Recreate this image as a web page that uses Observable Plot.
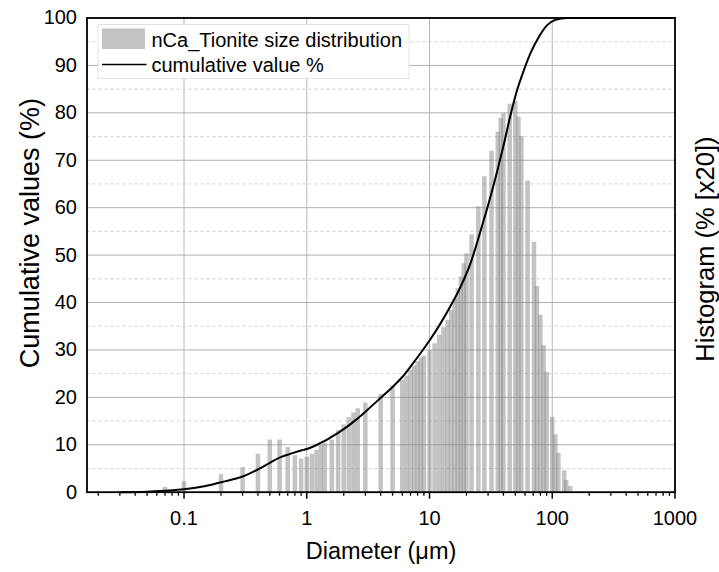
<!DOCTYPE html>
<html><head><meta charset="utf-8">
<script src="https://cdn.jsdelivr.net/npm/d3@7"></script>
<script src="https://cdn.jsdelivr.net/npm/@observablehq/plot@0.6"></script>
<style>
body{margin:0;background:#fff;}
#chart{position:relative;width:719px;height:572px;}
</style></head><body><div id="chart"></div>
<script>
// Histogram classes (diameter, µm) and heights (% x20)
const diameters = [0.07,0.1,0.2,0.3,0.4,0.5,0.6,0.7,0.8,0.9,1.0,1.1,1.2,1.3,1.4,1.6,1.8,2.0,2.2,2.4,2.6,3.0,4.0,5.0,6.0,6.5,7.0,7.5,8.0,8.5,9.0,10,11,12,13,14,15,16,17,18,19,20,22,25,28,32,36,38,40,45,50,53,56,63,71,75,80,85,90,100,106,112,125,130,140];
const histogram = [1.0,2.2,3.7,5.2,8.0,11.0,11.0,9.4,7.7,7.0,7.4,8.0,8.8,9.9,10.3,11.0,13.0,14.2,15.7,16.7,17.6,18.8,20.6,22.4,23.6,24.5,25.7,26.6,27.5,28.3,28.7,29.9,31.3,33.1,34.7,36.2,38.3,40.8,42.9,45.4,48.2,50.3,54.3,60.2,66.5,71.9,75.9,78.8,79.8,81.8,82.5,79.1,75.0,65.6,52.7,43.4,37.3,30.9,25.3,15.8,12.1,8.2,4.5,2.5,1.2];
// Cumulative curve
const cumDiam = [0.03,0.05,0.07,0.1,0.15,0.2,0.3,0.4,0.5,0.6,0.7,0.8,0.9,1.0,1.2,1.4,1.6,2.0,2.5,3.1,4.0,5.0,6.0,7.2,8.5,10.2,12.3,14.8,17.9,21.6,26,30,35.6,40,45.7,51,56.9,66.5,77.7,90.9,106,132,200,1000];
const cumValue = [0,0.1,0.3,0.6,1.3,2.1,3.3,4.8,6.2,7.3,7.9,8.4,8.8,9.1,9.95,10.8,11.7,13.3,15.2,17.3,19.9,22.2,24.3,26.9,29.4,32.3,35.6,39.2,43.3,48.3,55.0,60.5,67.7,73.0,79.5,84.3,88.0,92.6,96.0,98.5,99.6,100,100,100];
// Ticks
const xMajorTicks = [0.1,1,10,100,1000];
const xMinorTicks = [0.02,0.03,0.04,0.05,0.06,0.07,0.08,0.09,0.2,0.3,0.4,0.5,0.6,0.7,0.8,0.9,2,3,4,5,6,7,8,9,20,30,40,50,60,70,80,90,200,300,400,500,600,700,800,900];
const yMajorTicks = [0,10,20,30,40,50,60,70,80,90,100];
const yMinorTicks = [5,15,25,35,45,55,65,75,85,95];
const seriesNames = ["nCa_Tionite size distribution","cumulative value %"];
const xLabel = "Diameter (\u03bcm)";
const yLabel = "Cumulative values (%)";
const y2Label = "Histogram (% [x20])";

const bars = diameters.map((d,i)=>({d, v: histogram[i]}));
const cum = cumDiam.map((d,i)=>({d, v: cumValue[i]}));
const font = "'Liberation Sans', Arial, sans-serif";

const plot = Plot.plot({
  width: 719, height: 572,
  marginLeft: 86.5, marginRight: 44.5, marginTop: 17.5, marginBottom: 80.3,
  style: {fontFamily: font, fontSize: "20px", background: "#fff", color: "#000", overflow: "visible"},
  x: {type: "log", domain: [0.0162, 1000]},
  y: {domain: [0, 100]},
  marks: [
    Plot.ruleY(yMinorTicks, {stroke: "#d0d0d0", strokeDasharray: "3,3"}),
    Plot.ruleY(yMajorTicks, {stroke: "#b0b0b0"}),
    Plot.ruleX(xMajorTicks.slice(0,4), {stroke: "#b8b8b8"}),
    Plot.ruleX(bars, {x: "d", y1: 0, y2: "v", stroke: "#888", strokeOpacity: 0.5, strokeWidth: 4.5}),
    Plot.line(cum, {x: "d", y: "v", curve: "monotone-x", stroke: "#000", strokeWidth: 2}),
    Plot.frame({stroke: "#000", strokeWidth: 1.8}),
    Plot.axisX(xMinorTicks, {tickSize: 4, tickFormat: () => "", label: null, strokeWidth: 1.3}),
    Plot.axisX(xMajorTicks, {tickSize: 7, tickPadding: 12, tickFormat: d => String(d), label: null, strokeWidth: 1.5}),
    Plot.axisY(yMajorTicks, {tickSize: 0, tickPadding: 10, label: null}),
    Plot.text([xLabel], {frameAnchor: "bottom", dy: 67, fontSize: 23.5}),
    Plot.text([yLabel], {frameAnchor: "left", textAnchor: "middle", dx: -57, dy: -22, rotate: -90, fontSize: 27}),
    Plot.text([y2Label], {frameAnchor: "right", textAnchor: "middle", dx: 31, dy: -6, rotate: -90, fontSize: 25.5})
  ]
});
document.getElementById("chart").appendChild(plot);

// Legend (inside plot, top-left)
const svg = d3.select(plot);
const lg = svg.append("g").attr("font-family", font).attr("font-size", 20).attr("text-anchor", "start");
lg.append("rect").attr("x", 98).attr("y", 24.5).attr("width", 311).attr("height", 54)
  .attr("fill", "#fff").attr("stroke", "#e2e2e2");
lg.append("rect").attr("x", 102).attr("y", 28.5).attr("width", 43).attr("height", 20.5)
  .attr("fill", "#c3c3c3");
lg.append("line").attr("x1", 102).attr("x2", 146.5).attr("y1", 64.5).attr("y2", 64.5)
  .attr("stroke", "#000").attr("stroke-width", 1.6);
lg.append("text").attr("x", 151.5).attr("y", 46.5).text(seriesNames[0]);
lg.append("text").attr("x", 151.5).attr("y", 71.5).text(seriesNames[1]);
</script></body></html>
